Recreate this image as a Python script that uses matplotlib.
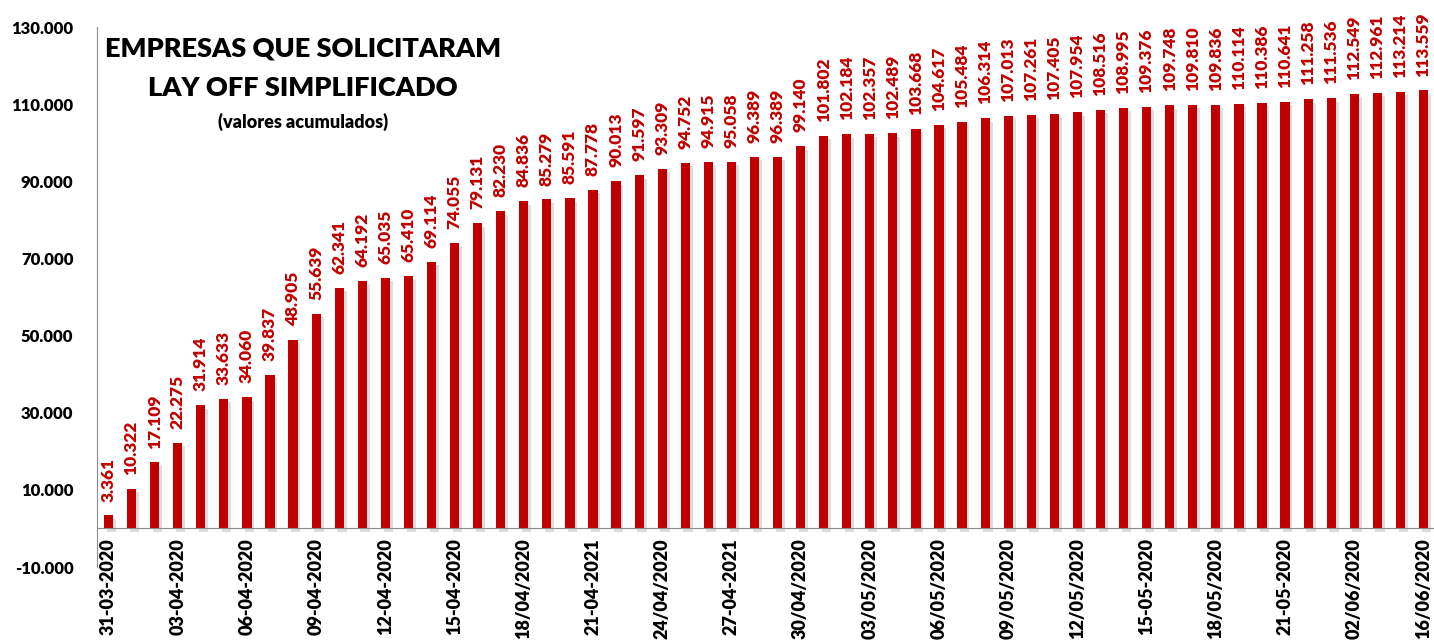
import matplotlib
matplotlib.use("Agg")
import matplotlib.pyplot as plt
import matplotlib.patheffects as pe
import numpy as np

dates = ["31-03-2020", "", "", "03-04-2020", "", "", "06-04-2020", "", "", "09-04-2020",
         "", "", "12-04-2020", "", "", "15-04-2020", "", "", "18/04/2020", "",
         "", "21-04-2021", "", "", "24/04/2020", "", "", "27-04-2021", "", "",
         "30/04/2020", "", "", "03/05/2020", "", "", "06/05/2020", "", "", "09/05/2020",
         "", "", "12/05/2020", "", "", "15-05-2020", "", "", "18/05/2020", "",
         "", "21-05-2020", "", "", "02/06/2020", "", "", "16/06/2020"]

values = [3361, 10322, 17109, 22275, 31914, 33633, 34060, 39837, 48905, 55639,
          62341, 64192, 65035, 65410, 69114, 74055, 79131, 82230, 84836, 85279,
          85591, 87778, 90013, 91597, 93309, 94752, 94915, 95058, 96389, 96389,
          99140, 101802, 102184, 102357, 102489, 103668, 104617, 105484, 106314, 107013,
          107261, 107405, 107954, 108516, 108995, 109376, 109748, 109810, 109836, 110114,
          110386, 110641, 111258, 111536, 112549, 112961, 113214, 113559]

yticks = [-10000, 10000, 30000, 50000, 70000, 90000, 110000, 130000]

FONT = ["Lato", "DejaVu Sans"]
plt.rcParams["font.family"] = FONT

W, H = 1434, 641
fig = plt.figure(figsize=(W / 100, H / 100), dpi=100)
ax = fig.add_axes([97 / W, 74 / H, 1338 / W, (567 - 27) / H])

for s in ["top", "right"]:
    ax.spines[s].set_visible(False)
ax.spines["bottom"].set_position(("data", 0))
ax.spines["bottom"].set_color("#8c8c8c")
ax.spines["left"].set_color("#8c8c8c")
ax.spines["bottom"].set_zorder(4)

def fmt(v):
    s = f"{abs(v):,}".replace(",", ".")
    return ("-" if v < 0 else "") + s

x = np.arange(len(values))
bars = ax.bar(x, values, width=0.4, color="#C00000", zorder=3)
for b in bars:
    b.set_path_effects([pe.SimplePatchShadow(offset=(2.0, -2.5), shadow_rgbFace="#a0a0a0", alpha=0.35),
                        pe.Normal()])

for xi, v in zip(x, values):
    ax.annotate(fmt(v), (xi, v), xytext=(0, 10), textcoords="offset points",
                rotation=90, ha="center", va="bottom", color="#C00000",
                fontsize=12.5, fontweight="heavy")

ax.set_xlim(-0.5, len(values) - 0.5)
ax.set_ylim(-10000, 130000)
ax.set_yticks(yticks)
ax.set_yticklabels([fmt(t) for t in yticks], fontsize=12, fontweight="heavy")
ax.set_xticks(x)
ax.set_xticklabels(dates, rotation=90, fontsize=13, fontweight="heavy", va="top", ha="center")
ax.tick_params(axis="both", length=0)
ax.tick_params(axis="y", pad=17)
ax.tick_params(axis="x", pad=7)

fig.text(303 / W, 1 - 48 / H, "EMPRESAS QUE SOLICITARAM", ha="center", va="center",
         fontsize=19.5, fontweight="heavy")
fig.text(303 / W, 1 - 88 / H, "LAY OFF SIMPLIFICADO", ha="center", va="center",
         fontsize=19.5, fontweight="heavy")
fig.text(303 / W, 1 - 122 / H, "(valores acumulados)", ha="center", va="center",
         fontsize=13, fontweight="heavy")

fig.savefig("out.png", dpi=100)
